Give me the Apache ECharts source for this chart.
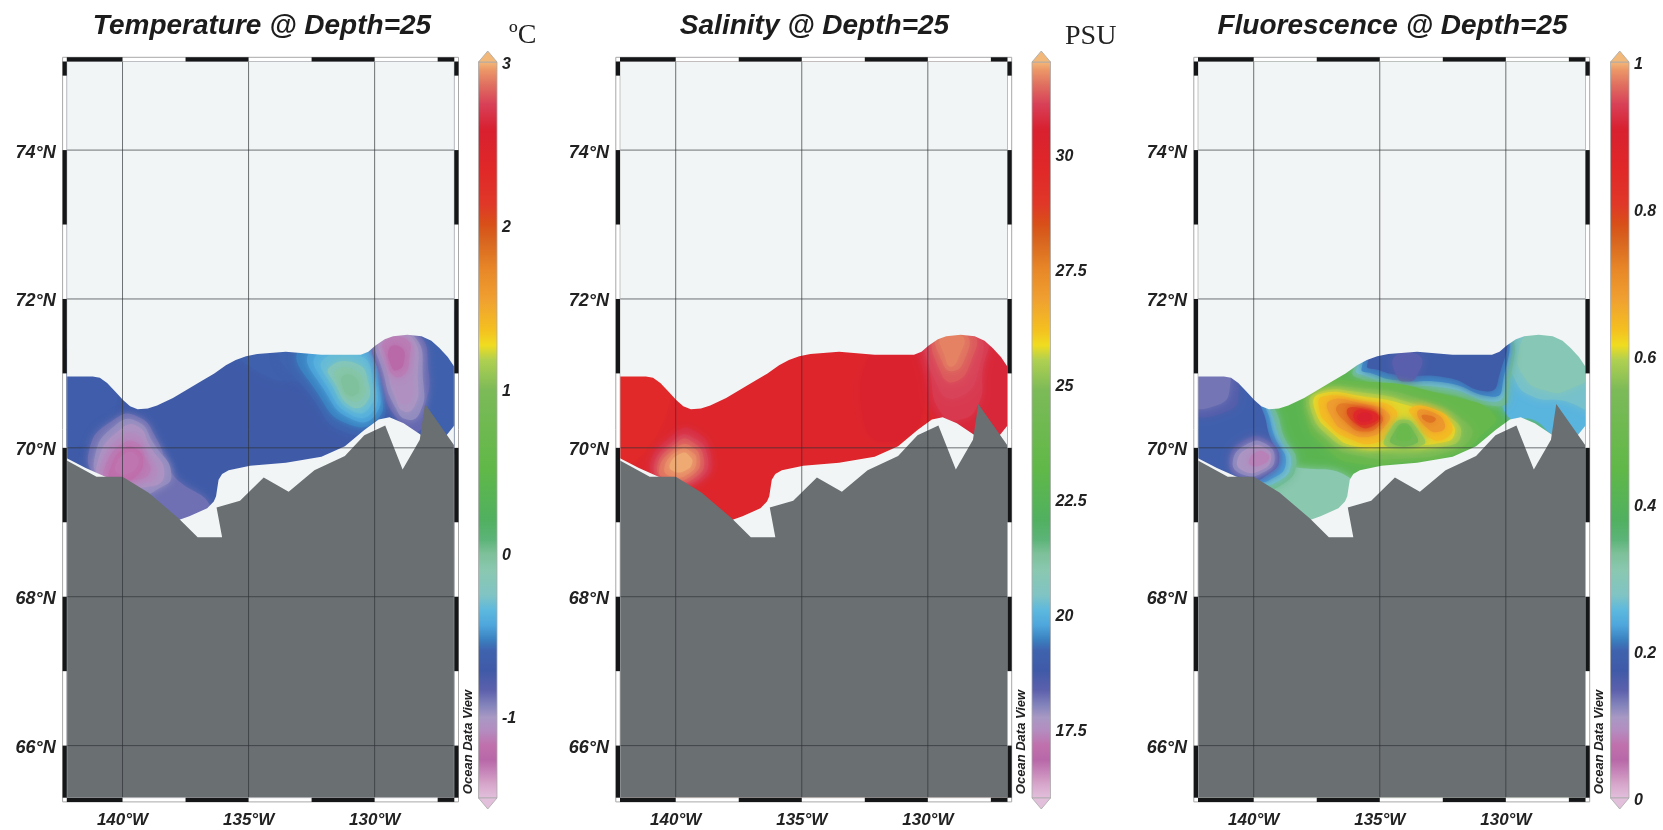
<!DOCTYPE html>
<html><head><meta charset="utf-8">
<style>html,body{margin:0;padding:0;background:#fff}#c{width:1663px;height:830px}</style>
<script src="https://cdn.jsdelivr.net/npm/echarts@6/dist/echarts.min.js"></script>
</head><body><div id="c"></div>
<script>
// ---- axes
const lonMin=-142.21, lonMax=-126.84, latMin=65.30, latMax=75.19;
const lonTicks=[-140,-135,-130];
const latTicks=[66,68,70,72,74];
const lonBars=[[-142.21,-140],[-137.5,-135],[-132.5,-130],[-127.5,-126.84]];
const latBars=[[75.19,75],[74,73],[72,71],[70,69],[68,67],[66,65.3]];
const titles=['Temperature @ Depth=25','Salinity @ Depth=25','Fluorescence @ Depth=25'];
const tempTicks=[-1,0,1,2,3];
const salTicks=[17.5,20,22.5,25,27.5,30];
const fluTicks=[0,0.2,0.4,0.6,0.8,1];
// ---- colour bar, position along the scale and colour
const barPos=[0,.018,.052,.072,.092,.11,.126,.147,.174,.201,.215,.235,.255,.276,.31,.333,.351,.378,.446,.554,.595,.615,.636,.677,.717,.758,.779,.806,.853,.908,.942,.969,.989,1];
const barHex=['#e2c0dc','#d8a8cc','#b868a8','#c070ac','#b48cc0','#a898c4','#8484bc','#5c60ac','#3f5aa8','#3f63ae','#3a80c0','#4ea6dc','#5cb8de','#80c4c4','#8ac8b0','#7cc098','#5cb478','#50b060','#60b848','#7cba58','#b0d050','#f0dc20','#f4c020','#f0a030','#e88828','#d8641f','#d85018','#e03828','#e02828','#d82030','#d84058','#e07060','#ec9868','#f2b87a'];
// ---- land and data limits (lon, lat)
const land=[[-142.21,69.83],[-141.03,69.61],[-140,69.61],[-138.98,69.40],[-137.77,69.05],[-137.02,68.80],[-136.05,68.80],[-136.27,69.20],[-135.34,69.29],[-134.40,69.60],[-133.41,69.41],[-132.39,69.70],[-131.18,69.89],[-130.41,70.17],[-129.58,70.30],[-128.89,69.71],[-128.21,70.11],[-128.0,70.59],[-126.84,70.03],[-126.84,65.30],[-142.21,65.30]];
const northLimit=[[-142.21,70.96],[-141.18,70.96],[-140.9,70.94],[-140.61,70.87],[-140.3,70.76],[-139.97,70.64],[-139.7,70.56],[-139.40,70.52],[-139.0,70.53],[-138.63,70.57],[-138.0,70.67],[-137.35,70.80],[-136.85,70.90],[-136.36,71.00],[-135.9,71.11],[-135.51,71.18],[-135.1,71.23],[-134.66,71.26],[-133.52,71.29],[-132.11,71.25],[-130.55,71.25],[-130.25,71.29],[-129.98,71.37],[-129.6,71.46],[-129.27,71.50],[-128.7,71.52],[-128.14,71.50],[-127.75,71.44],[-127.43,71.34],[-127.1,71.22],[-126.84,71.09],[-126.84,75.19],[-142.21,75.19]];
const southLimit=[[-142.21,69.86],[-141.46,69.73],[-140.68,69.61],[-140,69.57],[-137.77,69.03],[-137.35,69.08],[-136.64,69.19],[-136.38,69.28],[-136.29,69.35],[-136.19,69.57],[-136.05,69.65],[-135.79,69.70],[-134.94,69.76],[-133.52,69.80],[-132.11,69.88],[-131.18,70.02],[-130.41,70.24],[-129.84,70.38],[-129.41,70.41],[-128.85,70.33],[-128.14,70.17],[-127.15,70.17],[-126.84,70.30],[-126.84,65.30],[-142.21,65.30]];
// ---- fields: base value, then contour layers [value, ring]
const tempBase=-0.71;
const tempLayers=[
[-0.68,[[-142.6,71.2],[-140.7,71.2],[-140.6,70.3],[-142.6,70.1]]],
[-0.62,[[-128.3,71.7],[-126.5,71.7],[-126.5,70],[-128,70.2],[-128.6,70.9]]],
[-0.64,[[-135.8,71.5],[-131,71.5],[-130.8,70.6],[-132.5,70.85],[-134.5,71.0]]],
[-0.6,[[-133.67,71.35],[-130.5,71.5],[-129.7,70.78],[-129.85,70.3],[-131.26,70.22],[-132.45,70.66]]],
[-0.53,[[-132.95,71.35],[-130.3,71.5],[-129.75,70.78],[-129.9,70.38],[-131.05,70.32],[-132.2,70.7]]],
[-0.46,[[-132.55,71.3],[-130.35,71.4],[-129.85,70.87],[-129.98,70.44],[-130.88,70.38],[-131.95,70.75]]],
[-0.4,[[-132.3,71.25],[-130.45,71.32],[-129.95,70.87],[-130.08,70.48],[-130.92,70.44],[-131.85,70.8]]],
[-0.33,[[-132.05,71.18],[-130.55,71.23],[-130.08,70.87],[-130.2,70.54],[-130.92,70.5],[-131.72,70.85]]],
[-0.2,[[-131.8,71.08],[-130.72,71.13],[-130.25,70.87],[-130.35,70.6],[-130.95,70.56],[-131.55,70.85]]],
[-0.08,[[-131.55,71.03],[-130.83,71.05],[-130.42,70.85],[-130.5,70.67],[-130.95,70.64],[-131.38,70.85]]],
[-0.02,[[-131.26,70.96],[-130.83,70.96],[-130.62,70.8],[-130.76,70.71],[-131.04,70.71],[-131.26,70.82]]],
[-0.88,[[-141.32,69.97],[-140.33,70.38],[-139.4,70.42],[-138.63,70.11],[-138.06,69.66],[-136.5,69.21],[-137.21,69.03],[-138.06,69.08],[-139.19,69.44],[-140.89,69.59]]],
[-0.96,[[-141.1,69.88],[-140.26,70.31],[-139.4,70.35],[-138.77,70.06],[-138.06,69.64],[-138.63,69.44],[-139.19,69.39],[-140.75,69.57]]],
[-1.03,[[-140.96,69.84],[-140.11,70.24],[-139.4,70.29],[-138.91,70.02],[-138.34,69.66],[-138.91,69.48],[-140.75,69.55]]],
[-1.08,[[-140.82,69.79],[-140.04,70.15],[-139.4,70.17],[-139.05,69.95],[-138.63,69.66],[-139.19,69.53],[-140.68,69.55]]],
[-1.13,[[-140.68,69.75],[-139.97,70.06],[-139.4,70.06],[-139.12,69.88],[-138.91,69.68],[-139.48,69.57],[-140.61,69.55]]],
[-1.2,[[-140.47,69.73],[-139.9,70],[-139.4,69.97],[-139.19,69.82],[-139.4,69.64],[-139.97,69.55],[-140.47,69.57]]],
[-1.3,[[-140.26,69.77],[-139.83,69.93],[-139.48,69.91],[-139.4,69.77],[-139.76,69.66],[-140.18,69.66]]],
[-0.86,[[-129.98,71.54],[-128.35,71.54],[-127.85,71.0],[-128.0,70.56],[-128.28,70.22],[-129.13,70.4],[-129.7,70.87]]],
[-0.96,[[-129.87,71.52],[-128.49,71.52],[-128.07,70.87],[-128.21,70.47],[-128.71,70.38],[-129.2,70.56],[-129.62,70.96]]],
[-1.02,[[-129.77,71.5],[-128.56,71.5],[-128.28,70.87],[-128.42,70.56],[-128.85,70.49],[-129.2,70.69],[-129.48,71.0]]],
[-1.06,[[-129.7,71.45],[-128.63,71.45],[-128.49,70.91],[-128.56,70.64],[-128.92,70.6],[-129.2,70.78],[-129.41,71]]],
[-1.13,[[-129.62,71.43],[-128.71,71.45],[-128.63,71.18],[-128.85,70.98],[-129.27,70.98],[-129.48,71.18]]],
[-1.26,[[-129.41,71.34],[-128.92,71.34],[-128.85,71.14],[-129.06,71.05],[-129.3,71.07]]]
];
const salBase=29.95;
const salLayers=[
[29.6,[[-142.6,71.2],[-140.6,71.2],[-140.7,70.2],[-142.6,69.8]]],
[30.3,[[-132,71.4],[-130.3,71.4],[-130.2,70.5],[-131.2,70.1],[-132.5,70.3]]],
[30.65,[[-130.25,71.6],[-126.5,71.6],[-126.5,70.2],[-128.3,70.2],[-129.6,70.4],[-130.1,70.9]]],
[30.95,[[-129.97,71.52],[-127.77,71.52],[-127.84,71],[-127.98,70.6],[-128.69,70.38],[-129.47,70.47],[-129.9,71]]],
[31.1,[[-129.82,71.52],[-128.05,71.52],[-127.98,71.05],[-128.69,70.69],[-129.54,70.78]]],
[31.3,[[-129.68,71.52],[-128.2,71.52],[-128.27,71.18],[-128.9,70.89],[-129.47,71]]],
[31.5,[[-129.61,71.52],[-128.48,71.52],[-128.55,71.18],[-129.05,71.03],[-129.43,71.16]]],
[31.65,[[-129.47,71.5],[-128.62,71.5],[-128.76,71.23],[-129.09,71.09],[-129.33,71.23]]],
[30.75,[[-141.02,69.75],[-140.03,70.2],[-139.32,70.24],[-138.61,69.93],[-138.89,69.57],[-140.17,69.55]]],
[31.0,[[-140.88,69.73],[-139.96,70.13],[-139.39,70.15],[-138.75,69.91],[-139.04,69.59],[-140.17,69.55]]],
[31.25,[[-140.74,69.73],[-139.89,70.09],[-139.39,70.09],[-138.89,69.86],[-139.18,69.61],[-140.1,69.55]]],
[31.5,[[-140.67,69.7],[-139.89,70.02],[-139.39,70.02],[-139.04,69.84],[-139.32,69.64],[-140.1,69.57]]],
[31.7,[[-140.45,69.73],[-139.82,69.98],[-139.39,69.95],[-139.18,69.82],[-139.46,69.66],[-140.1,69.61]]],
[31.92,[[-140.24,69.77],[-139.74,69.93],[-139.43,69.88],[-139.35,69.79],[-139.6,69.7],[-140.03,69.68]]]
];
const fluBase=0.42;
const fluLayers=[
[0.31,[[-139.22,69.68],[-138.17,69.73],[-136.07,69.57],[-135.93,69.21],[-137.05,68.9],[-139,69.12]]],
[0.34,[[-142.6,71.23],[-139.57,70.64],[-139.15,70.51],[-138.8,70.15],[-138.31,69.79],[-139,69.48],[-139.71,69.48],[-142.6,69.66]]],
[0.27,[[-142.6,71.23],[-139.71,70.69],[-139.36,70.51],[-139,70.15],[-138.52,69.79],[-139.15,69.53],[-139.85,69.53],[-142.6,69.66]]],
[0.23,[[-142.6,71.23],[-139.85,70.69],[-139.5,70.51],[-139.17,70.15],[-138.73,69.79],[-139.36,69.57],[-139.92,69.55],[-142.6,69.66]]],
[0.19,[[-142.6,71.23],[-139.99,70.69],[-139.64,70.49],[-139.36,70.15],[-139,69.84],[-139.57,69.61],[-139.99,69.57],[-142.6,69.66]]],
[0.155,[[-142.6,71.1],[-140.95,71.1],[-140.6,70.75],[-141.0,70.5],[-142.6,70.5]]],
[0.135,[[-142.6,71.1],[-141.2,71.1],[-140.95,70.8],[-141.4,70.58],[-142.6,70.6]]],
[0.15,[[-140.97,69.84],[-140.34,70.11],[-139.5,70.11],[-139,69.86],[-139.43,69.66],[-140.55,69.61]]],
[0.125,[[-140.83,69.82],[-140.2,70.06],[-139.57,70.06],[-139.17,69.86],[-139.57,69.68],[-140.41,69.64]]],
[0.105,[[-140.66,69.82],[-140.13,70.01],[-139.57,70],[-139.31,69.85],[-139.71,69.7],[-140.34,69.68]]],
[0.085,[[-140.2,69.82],[-139.85,69.95],[-139.5,69.93],[-139.4,69.85],[-139.71,69.77],[-140.06,69.76]]],
[0.25,[[-130.33,71.36],[-129.63,71.54],[-126.4,71.54],[-126.4,70.11],[-127.95,70.15],[-128.93,70.38],[-129.91,70.42],[-130.19,70.91]]],
[0.27,[[-129.91,71.36],[-129.49,71.54],[-126.4,71.54],[-126.4,70.56],[-127.81,70.64],[-128.93,70.69],[-129.63,70.91]]],
[0.30,[[-129.49,71.27],[-128.93,71.54],[-126.4,71.54],[-126.4,71.09],[-127.53,70.78],[-128.51,70.78],[-129.28,70.96]]],
[0.34,[[-136.07,71.03],[-134.95,71.6],[-130.19,71.6],[-129.91,70.69],[-130.33,70.56],[-132.43,70.73],[-134.53,70.78],[-135.65,70.91]]],
[0.27,[[-135.93,71.05],[-134.95,71.6],[-130.26,71.6],[-130.05,70.78],[-130.47,70.62],[-132.29,70.8],[-134.53,70.85],[-135.5,70.96]]],
[0.22,[[-135.72,71.07],[-134.8,71.6],[-130.33,71.6],[-130.16,70.78],[-130.61,70.69],[-132.29,70.87],[-134.39,70.91],[-135.3,71]]],
[0.18,[[-135.5,71.11],[-134.67,71.6],[-130.33,71.6],[-130.33,70.87],[-130.82,70.76],[-132.29,70.94],[-134.25,70.98],[-135.09,71.05]]],
[0.15,[[-134.39,71.23],[-133.4,71.23],[-133.55,70.96],[-133.97,70.89],[-134.32,70.96]]],
[0.47,[[-137.6,70.8],[-135.65,70.89],[-132.43,70.71],[-130.47,70.44],[-131.03,70.15],[-131.94,69.93],[-133.83,69.82],[-135.93,69.79],[-137.05,69.97],[-137.95,70.42]]],
[0.53,[[-137.65,70.74],[-135.65,70.8],[-133.13,70.62],[-131.55,70.33],[-131.4,70.13],[-132.29,69.95],[-133.83,69.86],[-135.93,69.9],[-137.05,70.09],[-137.85,70.47]]],
[0.58,[[-137.55,70.73],[-135.65,70.74],[-133.55,70.58],[-132.1,70.38],[-131.8,70.15],[-132.43,70.02],[-134.53,69.97],[-136.07,70],[-137,70.15],[-137.72,70.5]]],
[0.61,[[-137.4,70.72],[-135.65,70.69],[-133.69,70.55],[-132.28,70.36],[-132.05,70.17],[-132.6,70.07],[-134.53,70.02],[-135.95,70.02],[-136.88,70.2],[-137.58,70.52]]],
[0.64,[[-137.25,70.69],[-135.65,70.63],[-134.4,70.52],[-134.55,70.27],[-135.15,70.07],[-136.25,70.13],[-137.05,70.32],[-137.4,70.52]]],
[0.68,[[-137.0,70.63],[-135.65,70.59],[-134.65,70.46],[-134.85,70.27],[-135.45,70.15],[-136.3,70.22],[-136.85,70.38]]],
[0.73,[[-136.7,70.56],[-135.65,70.55],[-134.92,70.43],[-135.05,70.29],[-135.6,70.22],[-136.2,70.3]]],
[0.79,[[-136.3,70.51],[-135.55,70.52],[-135.0,70.42],[-135.25,70.3],[-135.8,70.29]]],
[0.85,[[-136.0,70.48],[-135.5,70.5],[-135.05,70.41],[-135.44,70.32],[-135.9,70.34]]],
[0.9,[[-135.86,70.44],[-135.5,70.47],[-135.3,70.4],[-135.58,70.35],[-135.86,70.38]]],
[0.64,[[-133.8,70.53],[-132.85,70.52],[-132.15,70.31],[-132.38,70.13],[-133.06,70.14],[-133.55,70.36]]],
[0.69,[[-133.5,70.49],[-132.85,70.47],[-132.42,70.32],[-132.6,70.22],[-133.1,70.26]]],
[0.74,[[-133.34,70.43],[-132.99,70.43],[-132.78,70.38],[-133.06,70.34]]],
[0.58,[[-134.74,70.02],[-134.6,70.24],[-134.04,70.38],[-133.48,70.24],[-133.27,70.04]]],
[0.52,[[-134.53,70.06],[-134.41,70.22],[-134.04,70.33],[-133.66,70.22],[-133.55,70.06]]],
[0.48,[[-134.32,70.13],[-134.04,70.31],[-133.76,70.13]]]
];
// ---- panel layout and scale ranges
const mapLeft=[66.8,620,1198], mapTop=61.5, mapW=387.5, mapH=736.2;
const barLeft=[478.5,1032,1610.5], barTop=62, barH=736, barW=18.5;
const barMin=[-1.5,16,0], barMax=[3,32,1];
const barTicks=[tempTicks,salTicks,fluTicks];
const bases=[tempBase,salBase,fluBase], layers=[tempLayers,salLayers,fluLayers];

function hex2(h){return [1,3,5].map(i=>parseInt(h.substr(i,2),16));}
function colourAt(f){
  f=Math.max(0,Math.min(1,f));
  for(let i=1;i<barPos.length;i++){ if(f<=barPos[i]){
    const t=(f-barPos[i-1])/(barPos[i]-barPos[i-1]),a=hex2(barHex[i-1]),b=hex2(barHex[i]);
    return 'rgb('+a.map((v,k)=>Math.round(v+(b[k]-v)*t)).join(',')+')';
  }}
  return barHex[barHex.length-1];
}
const textCol='#222', fam='"Liberation Sans",Arial,sans-serif';
const grid=[],xAxis=[],yAxis=[],series=[],title=[],graphic=[];
const titleX=[257,809.5,1387.5];
titles.forEach((t,i)=>title.push({text:t,left:titleX[i],top:7,textAlign:'center',textStyle:{fontFamily:fam,fontSize:28,fontWeight:'bold',fontStyle:'italic',color:'#1c1c1c'}}));
title.push({text:'\u00baC',left:504,top:17,textStyle:{fontFamily:'"Liberation Serif",serif',fontSize:28,fontWeight:'normal',color:'#222'}});
title.push({text:'PSU',left:1060,top:18,textStyle:{fontFamily:'"Liberation Serif",serif',fontSize:28,fontWeight:'normal',color:'#222'}});

function poly(api,ring,style,smooth){
  return {type:'polygon',shape:{points:ring.map(p=>api.coord(p)),smooth:smooth||0},style:style};
}
for(let i=0;i<3;i++){
  const g=grid.length;
  grid.push({left:mapLeft[i],top:mapTop,width:mapW,height:mapH,show:true,backgroundColor:'#f2f5f5',borderWidth:0});
  xAxis.push({gridIndex:g,type:'value',min:lonMin,max:lonMax,position:'bottom',axisLine:{show:false},axisTick:{show:false},splitLine:{show:false},
    axisLabel:{customValues:lonTicks,margin:14,fontFamily:fam,fontSize:17,fontWeight:'bold',fontStyle:'italic',color:textCol,formatter:v=>Math.abs(v)+'\u00b0W'}});
  yAxis.push({gridIndex:g,type:'value',min:latMin,max:latMax,axisLine:{show:false},axisTick:{show:false},splitLine:{show:false},
    axisLabel:{customValues:latTicks,margin:11,verticalAlign:'top',lineHeight:5,fontFamily:fam,fontSize:18,fontWeight:'bold',fontStyle:'italic',color:textCol,formatter:v=>v+'\u00b0N'}});
  const ls=layers[i], frac=v=>(v-barMin[i])/(barMax[i]-barMin[i]);
  // field
  series.push({type:'custom',name:titles[i],xAxisIndex:g,yAxisIndex:g,coordinateSystem:'cartesian2d',clip:true,z:2,silent:true,
    data:[[bases[i]]].concat(ls.map(l=>[l[0]])),
    encode:{x:[],y:[]},
    renderItem(p,api){
      const idx=p.dataIndex,c=colourAt(frac(api.value(0)));
      if(idx===0){ return poly(api,[[lonMin,latMin],[lonMax,latMin],[lonMax,latMax],[lonMin,latMax]],{fill:c}); }
      return poly(api,ls[idx-1][1],{fill:c,shadowBlur:8,shadowColor:c},0.55);
    }});
  // limits and land
  series.push({type:'custom',name:'limits',xAxisIndex:g,yAxisIndex:g,coordinateSystem:'cartesian2d',clip:true,z:3,silent:true,
    data:[[0],[1],[2]],encode:{x:[],y:[]},
    renderItem(p,api){
      const r=[northLimit,southLimit,land][p.dataIndex];
      return poly(api,r,{fill:p.dataIndex===2?'#6a6f72':'#f2f5f5'});
    }});
  // graticule
  series.push({type:'custom',name:'graticule',xAxisIndex:g,yAxisIndex:g,coordinateSystem:'cartesian2d',clip:true,z:4,silent:true,
    data:lonTicks.map(v=>[v,0]).concat(latTicks.map(v=>[v,1])),encode:{x:[],y:[]},
    renderItem(p,api){
      const v=api.value(0),a=api.value(1)===0?api.coord([v,latMin]):api.coord([lonMin,v]),b=api.value(1)===0?api.coord([v,latMax]):api.coord([lonMax,v]);
      return {type:'line',shape:{x1:a[0],y1:a[1],x2:b[0],y2:b[1]},style:{stroke:'rgba(45,50,55,.68)',lineWidth:1}};
    }});
  // frame
  series.push({type:'custom',name:'frame',xAxisIndex:g,yAxisIndex:g,coordinateSystem:'cartesian2d',clip:false,z:5,silent:true,
    data:[[0]],encode:{x:[],y:[]},
    renderItem(p,api){
      const R=p.coordSys,th=4.2,kids=[];
      kids.push({type:'rect',shape:{x:R.x-th,y:R.y-th,width:R.width+2*th,height:R.height+2*th},style:{fill:'none',stroke:'#a8a8a8',lineWidth:1}});
      kids.push({type:'rect',shape:{x:R.x,y:R.y,width:R.width,height:R.height},style:{fill:'none',stroke:'#b8b8b8',lineWidth:.8}});
      latBars.forEach(b=>{const a=api.coord([lonMin,b[0]])[1],c=api.coord([lonMin,b[1]])[1];
        [R.x-th,R.x+R.width].forEach(x=>kids.push({type:'rect',shape:{x:x,y:a,width:th,height:c-a},style:{fill:'#141618'}}));});
      lonBars.forEach(b=>{const a=api.coord([b[0],latMin])[0],c=api.coord([b[1],latMin])[0];
        [R.y-th,R.y+R.height].forEach(y=>kids.push({type:'rect',shape:{x:a,y:y,width:c-a,height:th},style:{fill:'#141618'}}));});
      return {type:'group',children:kids};
    }});
  // colour bar
  const h=grid.length;
  grid.push({left:barLeft[i],top:barTop,width:barW,height:barH,borderWidth:0});
  xAxis.push({gridIndex:h,type:'value',min:0,max:1,show:false});
  yAxis.push({gridIndex:h,type:'value',position:'right',min:barMin[i],max:barMax[i],axisLine:{show:false},axisTick:{show:false},splitLine:{show:false},
    axisLabel:{customValues:barTicks[i],margin:5,verticalAlign:'top',lineHeight:5,fontFamily:fam,fontSize:16,fontWeight:'bold',fontStyle:'italic',color:textCol}});
  series.push({type:'custom',name:'scale',xAxisIndex:h,yAxisIndex:h,coordinateSystem:'cartesian2d',clip:false,z:2,silent:true,
    data:[[0]],encode:{x:[],y:[]},
    renderItem(p,api){
      const R=p.coordSys,line={stroke:'#a9a9a9',lineWidth:.8},t=11;
      const stops=barPos.map((o,k)=>({offset:o,color:barHex[k]}));
      return {type:'group',children:[
        {type:'rect',shape:{x:R.x,y:R.y,width:R.width,height:R.height},style:Object.assign({fill:new echarts.graphic.LinearGradient(0,1,0,0,stops)},line)},
        {type:'polygon',shape:{points:[[R.x,R.y],[R.x+R.width/2,R.y-t],[R.x+R.width,R.y]]},style:Object.assign({fill:barHex[barHex.length-1]},line)},
        {type:'polygon',shape:{points:[[R.x,R.y+R.height],[R.x+R.width/2,R.y+R.height+t],[R.x+R.width,R.y+R.height]]},style:Object.assign({fill:barHex[0]},line)}
      ]};
    }});
  graphic.push({type:'text',x:mapLeft[i]+401.5,y:742,rotation:Math.PI/2,style:{text:'Ocean Data View',fontFamily:fam,fontSize:13,fontWeight:'bold',fontStyle:'italic',fill:'#222',textAlign:'center',textVerticalAlign:'middle'}});
}
const chart=echarts.init(document.getElementById('c'),null,{renderer:'canvas'});
chart.setOption({animation:false,backgroundColor:'#fff',title,grid,xAxis,yAxis,series,graphic});
</script></body></html>
